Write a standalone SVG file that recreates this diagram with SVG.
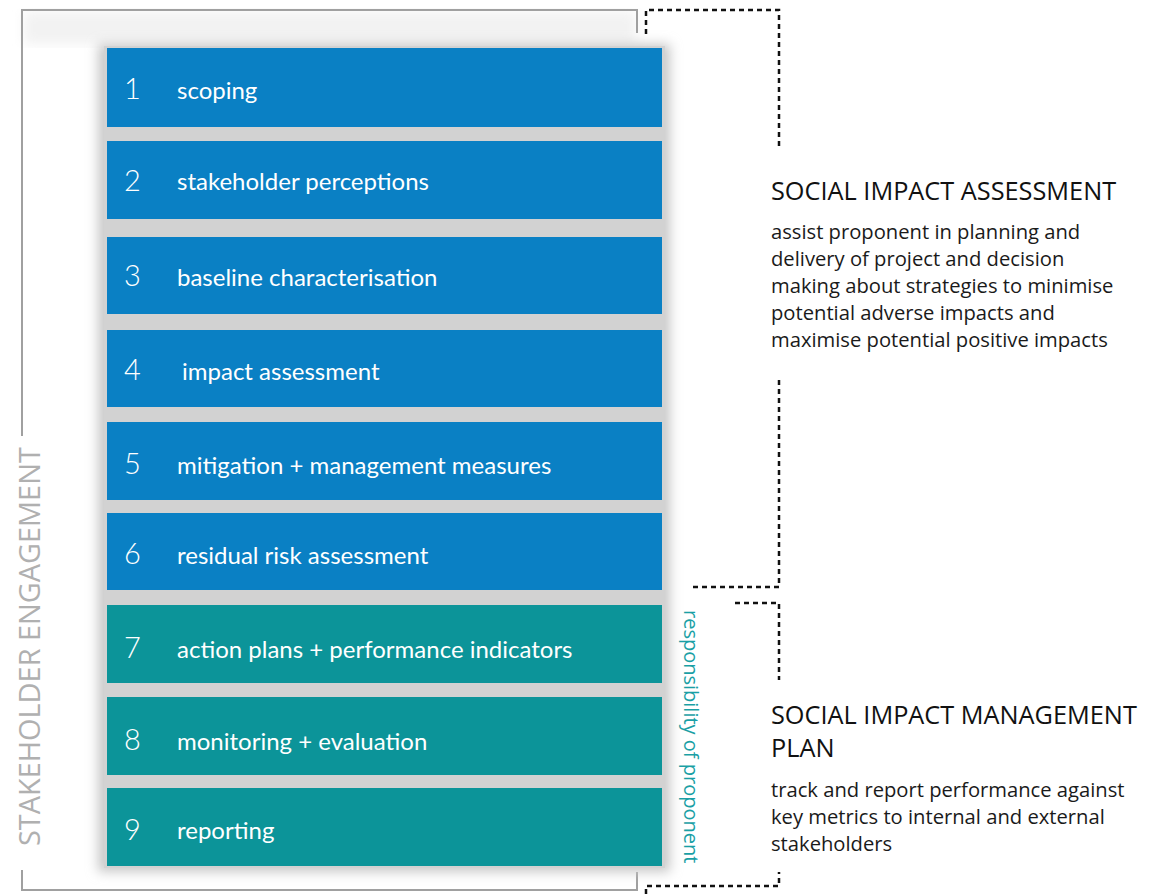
<svg xmlns="http://www.w3.org/2000/svg" width="1153" height="894" viewBox="0 0 1153 894">
  <style>
    .blue { fill: #0a80c4; }
    .teal { fill: #0c9499; }
    .num { font-family: Lato, "Liberation Sans", sans-serif; font-weight: 300; font-size: 29px; fill: #ffffff; }
    .lbl { font-family: Lato, "Liberation Sans", sans-serif; font-size: 24px; fill: #ffffff; }
    .frame { fill: none; stroke: #a0a0a0; stroke-width: 2; }
    .dash { fill: none; stroke: #111111; stroke-width: 2.5; stroke-dasharray: 5 4; }
    .head { font-family: "Open Sans", "Liberation Sans", sans-serif; font-size: 25.3px; fill: #111111; }
    .body { font-family: "Open Sans", "Liberation Sans", sans-serif; font-size: 20.2px; fill: #1a1a1a; }
  </style>
  <defs>
    <filter id="soft" x="-10%" y="-10%" width="120%" height="120%">
      <feGaussianBlur stdDeviation="6"/>
    </filter>
  </defs>

  <rect width="1153" height="894" fill="#ffffff"/>

  <!-- stakeholder engagement frame -->
  <g id="frame">
    <rect x="24" y="12" width="612" height="32" fill="#f2f2f2" filter="url(#soft)"/>
    <path class="frame" d="M22 436 V10 H637 V33"/>
    <path class="frame" d="M22 870 V890 H637 V872"/>
    <text transform="translate(40 846) rotate(-90)" font-family="'Open Sans', 'Liberation Sans', sans-serif" font-size="28.9" fill="#b0b0b0">STAKEHOLDER ENGAGEMENT</text>
  </g>

  <!-- shadow column behind the steps -->
  <rect x="98" y="44" width="572" height="828" fill="#c8c8c8" filter="url(#soft)"/>
  <rect x="104" y="46" width="561" height="822" fill="#d2d2d2"/>

  <g id="step1"><rect class="blue" x="107" y="48" width="555" height="79"/><text class="num" x="124" y="99">1</text><text class="lbl" x="177" y="99">scoping</text></g>
  <g id="step2"><rect class="blue" x="107" y="141" width="555" height="78"/><text class="num" x="124" y="191">2</text><text class="lbl" x="177" y="190">stakeholder perceptions</text></g>
  <g id="step3"><rect class="blue" x="107" y="237" width="555" height="77"/><text class="num" x="124" y="286">3</text><text class="lbl" x="177" y="286">baseline characterisation</text></g>
  <g id="step4"><rect class="blue" x="107" y="330" width="555" height="77"/><text class="num" x="124" y="380">4</text><text class="lbl" x="182" y="380">impact assessment</text></g>
  <g id="step5"><rect class="blue" x="107" y="422" width="555" height="78"/><text class="num" x="124" y="474">5</text><text class="lbl" x="177" y="474">mitigation + management measures</text></g>
  <g id="step6"><rect class="blue" x="107" y="513" width="555" height="77"/><text class="num" x="124" y="564">6</text><text class="lbl" x="177" y="564">residual risk assessment</text></g>
  <g id="step7"><rect class="teal" x="107" y="605" width="555" height="78"/><text class="num" x="124" y="658">7</text><text class="lbl" x="177" y="658">action plans + performance indicators</text></g>
  <g id="step8"><rect class="teal" x="107" y="697" width="555" height="78"/><text class="num" x="124" y="750">8</text><text class="lbl" x="177" y="750">monitoring + evaluation</text></g>
  <g id="step9"><rect class="teal" x="107" y="788" width="555" height="78"/><text class="num" x="124" y="840">9</text><text class="lbl" x="177" y="839">reporting</text></g>

  <text transform="translate(684 610) rotate(90)" font-family="'Open Sans', 'Liberation Sans', sans-serif" font-size="20" fill="#1a9fa5">responsibility of proponent</text>

  <!-- dashed brackets -->
  <g id="connectors">
    <path class="dash" d="M646 34 V10 H779 V148"/>
    <path class="dash" d="M779 380 V587 H690"/>
    <path class="dash" d="M735 603 H779 V680"/>
    <path class="dash" d="M646 894 V886 H779 V872"/>
  </g>

  <g id="sia">
    <text class="head" x="771" y="200">SOCIAL IMPACT ASSESSMENT</text>
    <text class="body" x="771" y="239">assist proponent in planning and</text>
    <text class="body" x="771" y="266">delivery of project and decision</text>
    <text class="body" x="771" y="293">making about strategies to minimise</text>
    <text class="body" x="771" y="320">potential adverse impacts and</text>
    <text class="body" x="771" y="347">maximise potential positive impacts</text>
  </g>

  <g id="simp">
    <text class="head" x="771" y="724">SOCIAL IMPACT MANAGEMENT</text>
    <text class="head" x="771" y="757">PLAN</text>
    <text class="body" x="771" y="797">track and report performance against</text>
    <text class="body" x="771" y="824">key metrics to internal and external</text>
    <text class="body" x="771" y="851">stakeholders</text>
  </g>
</svg>
